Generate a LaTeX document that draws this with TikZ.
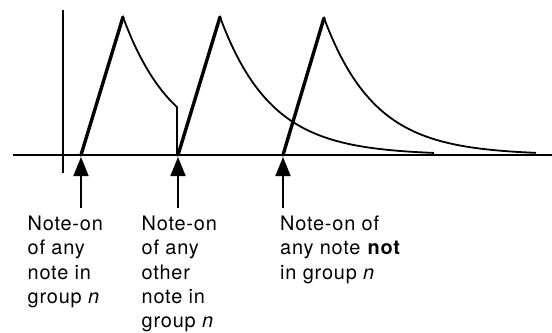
\documentclass[tikz,border=0pt]{standalone}
\usepackage{fontspec}
\setmainfont{TeX Gyre Heros}[LetterSpace=4]
\usetikzlibrary{arrows.meta}

\tikzset{
  attack/.style={line width=3.4bp,line cap=round},
  decay/.style={line width=1.8bp},
  axisline/.style={line width=1.8bp},
  noteon/.style={line width=1.8bp,-{Triangle[width=15bp,length=19bp]}},
  caption/.style={anchor=north west,inner sep=0pt,align=left,
    font=\fontsize{20}{24.5}\selectfont}
}

\begin{document}
\begin{tikzpicture}[x=1bp,y=-1bp]
  \useasboundingbox (0,0) rectangle (552,332);
  % axes
  \draw[axisline] (13,155) -- (552,155);
  \draw[axisline] (63,10) -- (63,173);
  \coordinate (on1) at (81,155);
  \coordinate (on2) at (178,155);
  \coordinate (on3) at (283,155);
  % first note, cut short by the second
  \draw[attack] (on1) -- (123,17);
  \draw[decay] plot[domain=0:54,samples=40] ({123+\x},{155-138*exp(-\x/51)}) -- (177,155);
  % second note
  \draw[attack] (on2) -- (220,17);
  \draw[decay] plot[domain=0:214,samples=80] ({220+\x},{155-138*exp(-\x/51)});
  % third note, not in the group
  \draw[attack] (on3) -- (324,18);
  \draw[decay] plot[domain=0:212,samples=80] ({324+\x},{155-137*exp(-\x/51)});
  % labels
  \node[caption] (lbl1) at (27.5,215.5) {Note-on\\of any\\note in\\group \textit{n}};
  \node[caption] (lbl2) at (141.5,215.5) {Note-on\\of any\\other\\note in\\group \textit{n}};
  \node[caption] (lbl3) at (280,215.5) {Note-on of\\any note \textbf{not}\\in group \textit{n}};
  \draw[noteon] (on1 |- 0,208) -- ([yshift=-2bp]on1);
  \draw[noteon] (on2 |- 0,208) -- ([yshift=-2bp]on2);
  \draw[noteon] (on3 |- 0,208) -- ([yshift=-2bp]on3);
\end{tikzpicture}
\end{document}
